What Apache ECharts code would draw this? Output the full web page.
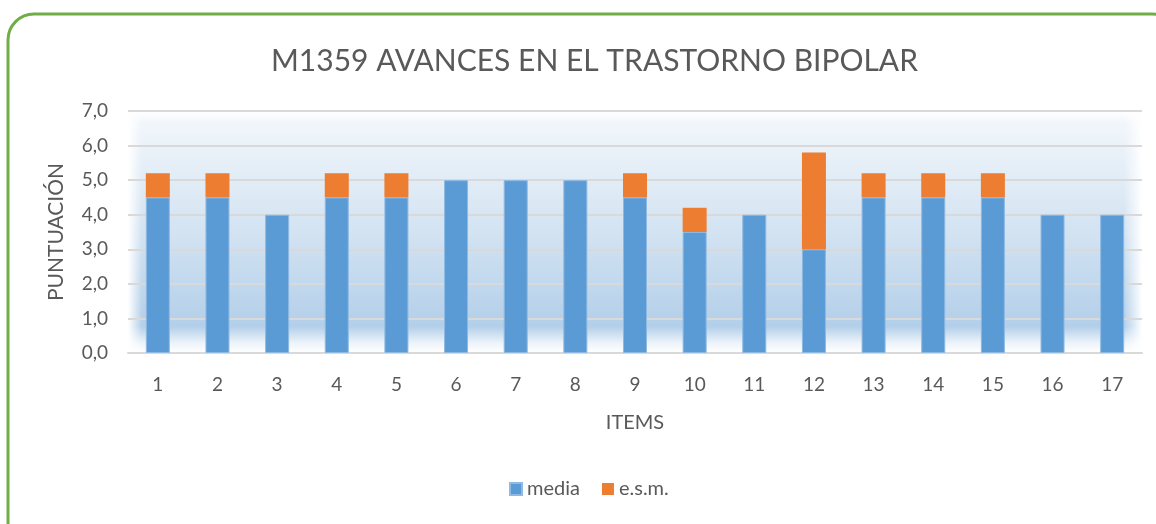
<!DOCTYPE html>
<html>
<head>
<meta charset="utf-8">
<script src="https://cdn.jsdelivr.net/npm/echarts@6/dist/echarts.min.js"></script>
<style>
html,body{margin:0;padding:0;background:#fff;}
#chart{width:1156px;height:524px;}
</style>
</head>
<body>
<div id="chart"></div>
<script>
const titleText = 'M1359 AVANCES EN EL TRASTORNO BIPOLAR';
const categories = ['1','2','3','4','5','6','7','8','9','10','11','12','13','14','15','16','17'];
const media = [4.5,4.5,4.0,4.5,4.5,5.0,5.0,5.0,4.5,3.5,4.0,3.0,4.5,4.5,4.5,4.0,4.0];
const esm   = [0.7,0.7,0,0.7,0.7,0,0,0,0.7,0.7,0,2.8,0.7,0.7,0.7,0,0];
const seriesNames = ['media','e.s.m.'];
const yAxisName = 'PUNTUACIÓN';
const xAxisName = 'ITEMS';

const FONT = 'Lato, "Open Sans", sans-serif';
const G = {left:128, right:14, top:111, bottom:171};
const chart = echarts.init(document.getElementById('chart'));
chart.setOption({
  animation:false,
  textStyle:{fontFamily:FONT},
  graphic:[
    {type:'rect', z:-10,
     shape:{x:8,y:14,width:1170,height:535,r:26},
     style:{fill:'#fff',stroke:'#70AD47',lineWidth:3}},
    {type:'rect', z:-1,
     shape:{x:128,y:111,width:1014,height:242},
     style:{fill:new echarts.graphic.LinearGradient(0,0,0,1,[
       {offset:0,color:'#ffffff'},
       {offset:0.05,color:'#f1f6fb'},
       {offset:0.5,color:'#d3e3f2'},
       {offset:0.89,color:'#b3cfe9'},
       {offset:0.96,color:'#eef4fa'},
       {offset:1,color:'#ffffff'}
     ])}},
    {type:'rect', z:-1,
     shape:{x:128,y:111,width:14,height:242},
     style:{fill:new echarts.graphic.LinearGradient(0,0,1,0,[
       {offset:0,color:'rgba(255,255,255,1)'},
       {offset:1,color:'rgba(255,255,255,0)'}
     ])}},
    {type:'rect', z:-1,
     shape:{x:1124,y:111,width:18,height:242},
     style:{fill:new echarts.graphic.LinearGradient(0,0,1,0,[
       {offset:0,color:'rgba(255,255,255,0)'},
       {offset:1,color:'rgba(255,255,255,1)'}
     ])}}
  ],
  title:{
    text:titleText, left:266, top:41,
    textStyle:{fontFamily:FONT,fontSize:30,fontWeight:'normal',color:'#595959'}
  },
  legend:{
    data:seriesNames, bottom:20, left:504, itemWidth:12, itemHeight:12, itemGap:22,
    icon:'rect',
    textStyle:{fontFamily:FONT,fontSize:20,color:'#595959'}
  },
  grid:{left:G.left, right:G.right, top:G.top, bottom:G.bottom, show:false},
  xAxis:{
    type:'category', data:categories,
    name:xAxisName, nameLocation:'middle', nameGap:60,
    nameTextStyle:{fontFamily:FONT,fontSize:20,color:'#595959'},
    axisLine:{lineStyle:{color:'#d9d9d9',width:2}},
    axisTick:{show:false},
    axisLabel:{fontFamily:FONT,fontSize:19,color:'#595959',margin:22}
  },
  yAxis:{
    type:'value', min:0, max:7, interval:1,
    name:yAxisName, nameLocation:'middle', nameGap:61,
    nameTextStyle:{fontFamily:FONT,fontSize:21,color:'#595959'},
    axisLine:{show:false}, axisTick:{show:false},
    axisLabel:{fontFamily:FONT,fontSize:19,color:'#595959',margin:20,
      formatter:v=>v.toFixed(1).replace('.',',')},
    splitLine:{lineStyle:{color:'#d9d9d9',width:2}}
  },
  series:[
    {name:seriesNames[0],type:'bar',stack:'s',data:media,barWidth:24,
      itemStyle:{color:'#5B9BD5',borderColor:'#8db9e2',borderWidth:1}},
    {name:seriesNames[1],type:'bar',stack:'s',data:esm,barWidth:24,
      itemStyle:{color:'#ED7D31',borderWidth:0}}
  ]
});
</script>
</body>
</html>
